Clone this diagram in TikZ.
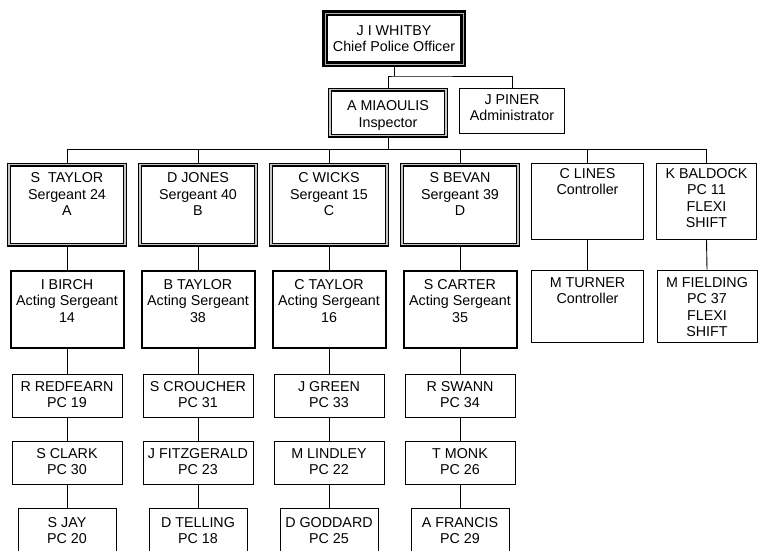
\documentclass[tikz,border=0pt]{standalone}
\usepackage{fontspec}
\setmainfont{Liberation Sans}
\newcommand\cell[4][18pt]{\parbox[c][#2][t]{#3}{\centering\rule{0pt}{#1}#4}}

\begin{document}
\begin{tikzpicture}[x=1pt,y=-1pt,
  font=\fontsize{14.3}{16.5}\selectfont,
  every node/.style={inner sep=0pt,anchor=north},
  chief/.style={draw,line width=2.6pt,double=gray!60,double distance=1pt},
  rank/.style={draw,line width=1.3pt,double=gray!45,double distance=1.2pt},
  acting/.style={draw,line width=2pt},
  plain/.style={draw,line width=0.9pt},
  link/.style={line width=0.9pt}]
  \useasboundingbox (0,0) rectangle (758,550);

  % head of the station
  \node[chief] (whitby) at (394,12) {\cell[22pt]{51pt}{138pt}{J I WHITBY\\Chief Police Officer}};
  \node[rank] (miaoulis) at (388,89) {\cell[21pt]{46pt}{116pt}{A MIAOULIS\\Inspector}};
  \node[plain] (piner) at (512,87.5) {\cell[16.5pt]{45pt}{105pt}{J PINER\\Administrator}};

  % sergeants and controllers
  \node[rank] (staylor) at (67,164) {\cell{80pt}{116pt}{S\ \ TAYLOR\\Sergeant 24\\A}};
  \node[rank] (jones) at (198,164) {\cell{80pt}{116pt}{D JONES\\Sergeant 40\\B}};
  \node[rank] (wicks) at (329,164) {\cell{80pt}{116pt}{C WICKS\\Sergeant 15\\C}};
  \node[rank] (bevan) at (460,164) {\cell{80pt}{116pt}{S BEVAN\\Sergeant 39\\D}};
  \node[plain] (lines) at (587.5,162.5) {\cell[15.5pt]{76pt}{112pt}{C LINES\\Controller}};
  \node[plain] (baldock) at (706.5,162.5) {\cell[15.5pt]{76pt}{100pt}{K BALDOCK\\PC 11\\FLEXI\\SHIFT}};

  % acting sergeants
  \node[acting] (birch) at (67,270) {\cell{77pt}{113pt}{I BIRCH\\Acting Sergeant\\14}};
  \node[acting] (btaylor) at (198,270) {\cell{77pt}{113pt}{B TAYLOR\\Acting Sergeant\\38}};
  \node[acting] (ctaylor) at (329,270) {\cell{77pt}{113pt}{C TAYLOR\\Acting Sergeant\\16}};
  \node[acting] (carter) at (460,270) {\cell{77pt}{113pt}{S CARTER\\Acting Sergeant\\35}};
  \node[plain] (turner) at (587.5,269.5) {\cell[17.5pt]{72pt}{112pt}{M TURNER\\Controller}};
  \node[plain] (fielding) at (707,269.5) {\cell[17.5pt]{72pt}{100pt}{M FIELDING\\PC 37\\FLEXI\\SHIFT}};

  % constables
  \node[plain] (redfearn) at (67,373.5) {\cell[17.5pt]{43pt}{110pt}{R REDFEARN\\PC 19}};
  \node[plain] (croucher) at (198,373.5) {\cell[17.5pt]{43pt}{110pt}{S CROUCHER\\PC 31}};
  \node[plain] (green) at (329,373.5) {\cell[17.5pt]{43pt}{110pt}{J GREEN\\PC 33}};
  \node[plain] (swann) at (460,373.5) {\cell[17.5pt]{43pt}{110pt}{R SWANN\\PC 34}};

  \node[plain] (clark) at (67,440.5) {\cell[17.5pt]{43pt}{110pt}{S CLARK\\PC 30}};
  \node[plain] (fitzgerald) at (198,440.5) {\cell[17.5pt]{43pt}{110pt}{J FITZGERALD\\PC 23}};
  \node[plain] (lindley) at (329,440.5) {\cell[17.5pt]{43pt}{110pt}{M LINDLEY\\PC 22}};
  \node[plain] (monk) at (460,440.5) {\cell[17.5pt]{43pt}{110pt}{T MONK\\PC 26}};

  \node[plain] (jay) at (67,507.5) {\cell[19.5pt]{60pt}{98pt}{S JAY\\PC 20}};
  \node[plain] (telling) at (198,507.5) {\cell[19.5pt]{60pt}{98pt}{D TELLING\\PC 18}};
  \node[plain] (goddard) at (329,507.5) {\cell[19.5pt]{60pt}{98pt}{D GODDARD\\PC 25}};
  \node[plain] (francis) at (460,507.5) {\cell[19.5pt]{60pt}{98pt}{A FRANCIS\\PC 29}};

  % connectors
  \coordinate (top) at (394,76);
  \coordinate (bus) at (388,149);
  \draw[link] (whitby.south) -- (top);
  \draw[link] (miaoulis.north) |- (top) -| (piner.north);
  \draw[link] (miaoulis.south) -- (bus);
  \foreach \n in {staylor,jones,wicks,bevan,lines,baldock}
    \draw[link] (bus) -| (\n.north);
  \foreach \a/\b in {staylor/birch,jones/btaylor,wicks/ctaylor,bevan/carter,
    lines/turner,baldock/fielding,birch/redfearn,btaylor/croucher,
    ctaylor/green,carter/swann,redfearn/clark,croucher/fitzgerald,
    green/lindley,swann/monk,clark/jay,fitzgerald/telling,
    lindley/goddard,monk/francis}
    \draw[link] (\a.south) -- (\b.north);
\end{tikzpicture}
\end{document}
